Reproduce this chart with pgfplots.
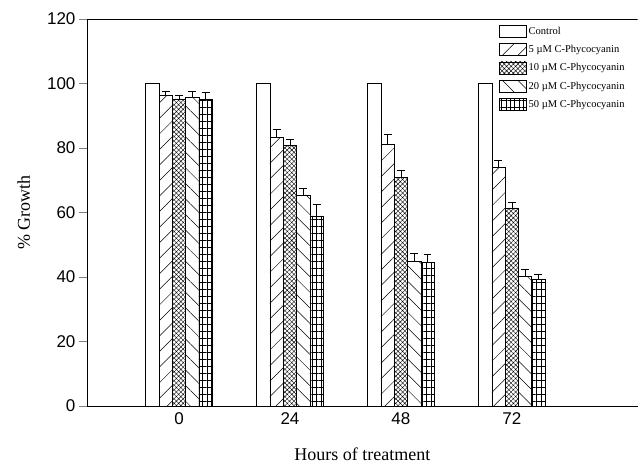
\documentclass[border=0pt]{standalone}
\usepackage{fontspec}
\setmainfont{Liberation Serif}
\newfontfamily\arial{Liberation Sans}
\usepackage{pgfplots}
\pgfplotsset{compat=1.18}
\usetikzlibrary{patterns.meta}
\begin{document}
\begin{tikzpicture}
\begin{axis}[
  scale only axis,
  width=551pt, height=387pt,
  xmin=-0.83, xmax=4.135,
  ymin=0, ymax=120,
  axis lines=left,
  axis line style={-, line width=0.6pt},
  ytick={0,20,40,60,80,100,120},
  xtick={0,1,2,3},
  xticklabels={0,24,48,72},
  tick align=outside,
  major tick length=8pt,
  x tick style={draw=none},
  y tick style={line width=0.6pt},
  /pgf/number format/assume math mode=true,
  ticklabel style={font=\arial\fontsize{17}{17}\selectfont},
  yticklabel style={xshift=0pt},
  xticklabel style={yshift=5pt},
  xlabel={Hours of treatment},
  ylabel={\% Growth},
  label style={font=\fontsize{18}{18}\selectfont},
  xlabel style={yshift=-17pt},
  ylabel style={yshift=10pt},
  ybar, bar width=0.12,
  every axis plot/.append style={draw=black, line width=0.6pt, fill=white},
  error bars/y dir=plus,
  error bars/y explicit,
  error bars/error bar style={line width=0.6pt},
  error bars/error mark options={rotate=90, mark size=4pt, line width=0.6pt},
  legend image code/.code={\draw[#1] (0pt,-6pt) rectangle (27pt,6pt);},
  legend style={at={(axis description cs:0.748,0.985)}, anchor=north west,
    draw=none, fill=none, font=\fontsize{10.5}{10.5}\selectfont,
    row sep=5.5pt, inner sep=0pt},
  legend cell align=left,
]
\draw[line width=0.6pt] (rel axis cs:0,1) -- (rel axis cs:1,1);
\addplot[bar shift=-0.24] coordinates {(0,100) (1,100) (2,100) (3,100)};
\addplot[bar shift=-0.12, postaction={pattern={Lines[angle=45,distance=11pt,line width=0.5pt]}}]
  coordinates {(0,96.3) +- (0,1.2) (1,83.3) +- (0,2.6) (2,81.2) +- (0,3.0) (3,74.0) +- (0,2.2)};
\addplot[bar shift=0, postaction={pattern={Hatch[angle=45,distance=3.2pt,line width=0.4pt]}}]
  coordinates {(0,95.2) +- (0,1.2) (1,80.8) +- (0,2.0) (2,70.8) +- (0,2.4) (3,61.4) +- (0,1.8)};
\addplot[bar shift=0.12, postaction={pattern={Lines[angle=-45,distance=11pt,line width=0.5pt]}}]
  coordinates {(0,95.7) +- (0,2.0) (1,65.4) +- (0,2.0) (2,44.7) +- (0,2.7) (3,40.1) +- (0,2.4)};
\addplot[bar shift=0.24, postaction={pattern={Lines[angle=90,distance=4.4pt,line width=0.4pt]}}, postaction={pattern={Lines[angle=0,distance=7pt,line width=0.4pt]}}]
  coordinates {(0,95.1) +- (0,2.2) (1,58.9) +- (0,3.6) (2,44.5) +- (0,2.5) (3,39.1) +- (0,1.7)};
\legend{Control, 5 \textmu M C-Phycocyanin, 10 \textmu M C-Phycocyanin, 20 \textmu M C-Phycocyanin, 50 \textmu M C-Phycocyanin}
\end{axis}
\path (current axis.south west) ++(-87pt,-53pt) rectangle ++(638pt,459pt);
\end{tikzpicture}
\end{document}
